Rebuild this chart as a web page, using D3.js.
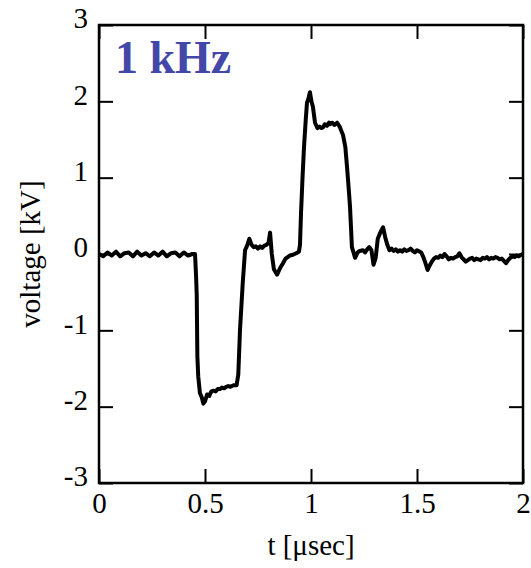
<!DOCTYPE html>
<html>
<head>
<meta charset="utf-8">
<script src="https://cdn.jsdelivr.net/npm/d3@7"></script>
<style>
  body { margin: 0; background: #fff; }
  svg { display: block; }
</style>
</head>
<body>
<div id="chart"></div>
<script>
// time in microseconds, voltage in kV
const timeUs = [
  0, 0.02, 0.04, 0.06, 0.08, 0.10, 0.12, 0.14, 0.16, 0.18, 0.20, 0.22, 0.24, 0.26, 0.28, 0.30,
  0.32, 0.34, 0.36, 0.38, 0.40, 0.42, 0.44, 0.453, 0.458, 0.461, 0.464, 0.468, 0.476, 0.485, 0.492,
  0.50, 0.51, 0.52, 0.53, 0.54, 0.55, 0.56, 0.57, 0.58, 0.59, 0.60, 0.61, 0.62, 0.635, 0.649,
  0.657, 0.665, 0.678, 0.689, 0.70, 0.709, 0.72, 0.73, 0.74, 0.75, 0.76, 0.77, 0.78, 0.79, 0.80,
  0.807, 0.815, 0.825, 0.84, 0.855, 0.868, 0.88, 0.89, 0.90, 0.915, 0.93, 0.943, 0.948, 0.953,
  0.96, 0.967, 0.975, 0.981, 0.988, 0.995, 1.002, 1.009, 1.019, 1.03, 1.04, 1.05, 1.057, 1.065,
  1.075, 1.085, 1.09, 1.10, 1.11, 1.123, 1.135, 1.145, 1.151, 1.162, 1.17, 1.178, 1.184, 1.193,
  1.208, 1.22, 1.23, 1.245, 1.255, 1.265, 1.275, 1.285, 1.295, 1.305, 1.315, 1.325, 1.34, 1.35,
  1.36, 1.37, 1.38, 1.39, 1.40, 1.41, 1.42, 1.43, 1.44, 1.45, 1.46, 1.47, 1.48, 1.49, 1.50, 1.52,
  1.53, 1.54, 1.55, 1.56, 1.57, 1.58, 1.59, 1.60, 1.61, 1.62, 1.63, 1.64, 1.65, 1.66, 1.67, 1.68,
  1.69, 1.70, 1.71, 1.72, 1.73, 1.74, 1.75, 1.76, 1.77, 1.78, 1.79, 1.80, 1.81, 1.82, 1.83, 1.84,
  1.85, 1.86, 1.87, 1.88, 1.89, 1.90, 1.91, 1.92, 1.93, 1.94, 1.95, 1.96, 1.97, 1.98, 1.99, 2.0
]
const voltageKv = [
  0.0, -0.03, 0.02, -0.02, 0.03, -0.03, 0.01, 0.02, -0.03, 0.03, -0.02, 0.01, -0.03, 0.02, -0.02, 0.03,
  -0.03, 0.01, 0.02, -0.03, 0.02, -0.02, 0.0, 0.0, -0.3, -0.54, -1.34, -1.6, -1.82, -1.88, -1.96,
  -1.93, -1.84, -1.86, -1.8, -1.79, -1.8, -1.77, -1.77, -1.75, -1.76, -1.74, -1.73, -1.74, -1.72, -1.72,
  -1.58, -1.0, -0.38, 0.05, 0.12, 0.2, 0.12, 0.09, 0.1, 0.07, 0.1, 0.08, 0.11, 0.12, 0.15,
  0.28, 0.0, -0.2, -0.27, -0.18, -0.12, -0.06, -0.04, -0.02, -0.01, 0.01, 0.03, 0.12, 0.54,
  1.0, 1.4, 1.75, 1.98, 2.04, 2.12, 2.0, 1.93, 1.72, 1.65, 1.67, 1.65, 1.66, 1.7,
  1.68, 1.72, 1.7, 1.72, 1.69, 1.72, 1.67, 1.6, 1.56, 1.4, 1.14, 0.85, 0.62, 0.09,
  -0.05, 0.02, 0.04, 0.05, 0.02, 0.06, 0.09, 0.05, -0.14, -0.05, 0.2, 0.27, 0.35, 0.22,
  0.12, 0.05, 0.07, 0.04, 0.06, 0.03, 0.05, 0.03, 0.06, 0.04, 0.05, 0.07, 0.04, 0.02, 0.05, 0.02,
  -0.04, -0.12, -0.21, -0.15, -0.1, -0.06, -0.04, -0.05, -0.02, -0.04, 0.0, -0.03, -0.07, -0.05, -0.06, -0.04,
  -0.03, 0.01, -0.04, -0.07, -0.1, -0.08, -0.06, -0.05, -0.08, -0.06, -0.07, -0.08, -0.05, -0.06, -0.04, -0.07,
  -0.05, -0.06, -0.04, -0.05, -0.07, -0.06, -0.09, -0.12, -0.08, -0.05, -0.03, -0.04, -0.02, -0.03, -0.01, 0.0
]
const xTicks = [0, 0.5, 1, 1.5, 2]
const yTicks = [-3, -2, -1, 0, 1, 2, 3]
const xTickLabels = ['0', '0.5', '1', '1.5', '2']
const yTickLabels = ['-3', '-2', '-1', '0', '1', '2', '3']

const W = 531, H = 568
const margin = {top: 25, right: 8, bottom: 85, left: 99}
const pw = W - margin.left - margin.right, ph = H - margin.top - margin.bottom
const serif = '"Liberation Serif", "Times New Roman", Times, serif'

let svg = d3.select('#chart').append('svg').attr('width', W).attr('height', H)
let g = svg.append('g').attr('transform', `translate(${margin.left},${margin.top})`)

let scX = d3.scaleLinear().domain([0, 2]).range([0, pw])
let scY = d3.scaleLinear().domain([-3, 3]).range([ph, 0])

// inward ticks on all four sides
let styleAxis = function(sel){
    sel.select('.domain').remove()
    sel.selectAll('line').attr('stroke', '#000').attr('stroke-width', 2)
    sel.selectAll('text').attr('font-family', serif).attr('font-size', 29).attr('fill', '#000')
}
g.append('g').attr('transform', `translate(0,${ph})`)
    .call(d3.axisBottom(scX).tickValues(xTicks).tickFormat((d, i) => xTickLabels[i]).tickSize(-14).tickPadding(9))
    .call(styleAxis)
g.append('g')
    .call(d3.axisLeft(scY).tickValues(yTicks).tickFormat((d, i) => yTickLabels[i]).tickSize(-14).tickPadding(11))
    .call(styleAxis)
    .selectAll('text').attr('dy', '0.1em')
g.append('g')
    .call(d3.axisTop(scX).tickValues(xTicks).tickFormat('').tickSize(-14))
    .call(styleAxis)
g.append('g').attr('transform', `translate(${pw},0)`)
    .call(d3.axisRight(scY).tickValues(yTicks).tickFormat('').tickSize(-14))
    .call(styleAxis)

g.append('rect').attr('width', pw).attr('height', ph)
    .attr('fill', 'none').attr('stroke', '#000').attr('stroke-width', 2.5)

let trace = timeUs.map((t, i) => ({t: t, v: voltageKv[i]}))
let lineMaker = d3.line().x(d => scX(d.t)).y(d => scY(d.v))
g.append('path').attr('d', lineMaker(trace))
    .attr('fill', 'none').attr('stroke', '#000').attr('stroke-width', 4)
    .attr('stroke-linejoin', 'round')

g.append('text').attr('x', 16).attr('y', 48)
    .attr('font-family', serif).attr('font-size', 46).attr('font-weight', 'bold')
    .attr('fill', '#4347a8').text('1 kHz')

svg.append('text').attr('x', margin.left + pw / 2).attr('y', 555)
    .attr('text-anchor', 'middle').attr('font-family', serif).attr('font-size', 29)
    .text('t [μsec]')

svg.append('text').attr('transform', 'translate(40,254) rotate(-90)')
    .attr('text-anchor', 'middle').attr('font-family', serif).attr('font-size', 29)
    .text('voltage [kV]')
</script>
</body>
</html>
